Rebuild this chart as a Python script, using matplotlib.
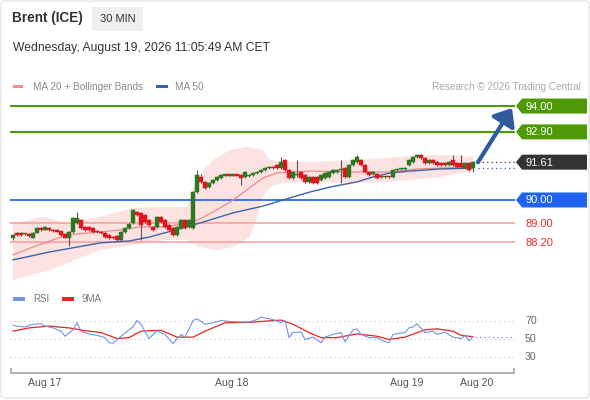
import matplotlib
matplotlib.use("Agg")
import matplotlib.pyplot as plt
import matplotlib.transforms as mtransforms
from matplotlib.patches import Rectangle, Polygon, FancyBboxPatch, FancyArrowPatch
import numpy as np

plt.rcParams['font.family'] = ['Liberation Sans', 'DejaVu Sans']

# ---------------- data ----------------
title = "Brent (ICE)"
timeframe = "30 MIN"
timestamp = "Wednesday, August 19, 2026 11:05:49 AM CET"

opens = [88.38,88.60,88.58,88.54,88.54,88.40,88.60,88.80,88.74,88.82,
         88.74,88.72,88.66,88.55,88.40,88.64,89.02,89.15,88.85,88.84,
         88.80,88.70,88.64,88.60,88.50,88.43,88.45,88.30,88.64,88.81,
         89.02,89.50,89.45,89.36,89.15,88.85,88.85,89.28,89.15,88.94,
         88.81,88.51,88.81,89.15,88.85,88.81,90.34,90.98,90.77,90.55,
         90.72,90.85,90.94,91.04,91.06,91.04,91.06,91.06,90.98,91.02,
         91.08,91.13,91.19,91.26,91.36,91.40,91.49,91.36,91.70,91.28,
         90.94,91.06,91.19,91.06,90.77,90.98,90.98,90.85,90.94,90.98,
         91.15,91.19,91.26,91.36,90.98,91.49,91.62,91.70,91.49,91.19,
         91.11,91.11,90.98,90.96,90.98,90.98,91.26,91.30,91.32,91.49,
         91.62,91.83,91.91,91.79,91.57,91.70,91.62,91.57,91.57,91.49,
         91.70,91.57,91.57,91.36,91.57,91.36]
highs = [88.55,88.64,88.62,88.60,88.58,88.62,88.85,88.85,88.90,88.86,
         88.78,88.76,88.70,88.58,88.68,89.28,89.49,89.20,88.90,88.88,
         88.84,88.74,88.68,88.64,88.54,88.46,88.50,88.68,88.85,89.02,
         89.60,89.55,89.50,89.40,89.20,88.90,89.32,89.32,89.20,88.98,
         88.85,88.90,89.20,89.20,89.20,90.40,91.28,91.10,90.82,90.78,
         90.90,91.02,91.10,91.09,91.09,91.08,91.09,91.10,91.23,91.12,
         91.19,91.23,91.32,91.40,91.44,91.44,91.53,91.83,91.75,91.32,
         91.23,91.70,91.23,91.10,91.02,91.02,91.02,91.10,91.19,91.23,
         91.32,91.32,91.70,91.40,91.53,91.74,91.91,91.74,91.53,91.23,
         91.23,91.15,91.02,91.02,91.02,91.32,91.34,91.36,91.40,91.74,
         91.87,91.95,91.95,91.83,91.74,91.74,91.66,91.62,91.62,91.66,
         91.91,91.62,91.91,91.62,91.62,91.65]
lows = [88.30,88.47,88.48,88.50,88.42,88.36,88.58,88.70,88.72,88.70,
        88.62,88.62,88.48,88.36,88.02,88.60,88.98,88.76,88.68,88.70,
        88.60,88.60,88.56,88.40,88.34,88.32,88.26,88.24,88.60,88.78,
        88.98,89.32,88.30,89.00,88.90,88.68,88.80,89.00,88.80,88.68,
        88.46,88.46,88.76,88.76,88.80,88.76,90.30,90.72,90.46,90.50,
        90.68,90.82,90.90,91.01,91.00,91.01,91.00,90.64,90.94,90.98,
        91.04,91.09,91.15,91.22,91.32,91.34,91.32,91.32,91.24,90.90,
        90.90,90.98,90.90,90.72,90.72,90.68,90.68,90.81,90.90,90.94,
        91.11,91.15,90.72,90.94,90.94,91.45,91.58,91.45,91.15,91.02,
        91.07,90.90,90.92,90.92,90.93,90.94,91.22,91.26,91.28,91.45,
        91.58,91.79,91.75,91.53,91.53,91.53,91.45,91.45,91.45,91.45,
        91.45,91.36,91.36,91.32,91.24,91.19]
closes = [88.51,88.51,88.52,88.56,88.45,88.60,88.81,88.72,88.84,88.73,
          88.66,88.65,88.52,88.40,88.64,89.23,89.23,88.81,88.72,88.74,
          88.64,88.64,88.60,88.43,88.38,88.38,88.30,88.64,88.81,88.98,
          89.57,89.36,88.94,89.06,88.94,88.72,89.28,89.06,88.85,88.72,
          88.51,88.85,89.15,88.81,89.15,90.34,91.06,90.77,90.51,90.72,
          90.85,90.98,91.06,91.06,91.04,91.06,91.04,90.94,91.19,91.08,
          91.15,91.19,91.28,91.36,91.40,91.38,91.36,91.62,91.28,90.94,
          91.19,91.08,90.94,90.77,90.98,90.72,90.72,91.06,91.15,91.19,
          91.28,91.28,91.30,90.98,91.49,91.70,91.83,91.49,91.19,91.06,
          91.19,90.94,90.96,90.98,90.97,91.28,91.30,91.32,91.36,91.70,
          91.83,91.91,91.79,91.57,91.70,91.57,91.49,91.49,91.49,91.62,
          91.49,91.40,91.40,91.57,91.28,91.61]

bb_up_idx = [0,4.25,7.5,13.5,21.75,30,38.5,43.5,46,50,54.25,58.5,62.5,64.25,67.5,74.25,86,102.5,111,115]
bb_up = [89.02,89.15,89.28,89.02,89.28,89.66,89.70,89.70,90.98,91.70,92.13,92.26,92.13,91.70,91.62,91.62,91.70,91.91,91.91,91.83]
bb_lo_idx = [0,9.25,21.75,30,38.5,43.5,46.75,51,55,59.25,61,62.5,64.25,66.75,74.25,86,94.25,106.75,113.5,115.5]
bb_lo = [86.60,87.02,87.87,88.09,88.30,88.30,88.00,87.87,88.00,88.43,89.28,90.13,90.55,90.72,90.77,90.72,90.77,90.98,91.19,91.36]
ma20_idx = [0,5,13.5,21.75,26.75,31.75,38.5,44.25,46.75,50,54.25,58.5,62.5,66,69.25,74.25,86,94.25,101,106.75,115]
ma20 = [87.66,88.00,88.51,88.64,88.72,88.85,88.85,89.06,89.19,89.49,89.91,90.43,90.94,91.15,91.19,91.23,91.19,91.19,91.32,91.36,91.40]
ma50_idx = [0,9.25,21.75,29.25,34.25,42.5,46.75,55,62.5,69.25,74.25,79.25,86,90,94.25,99.25,106.75,115]
ma50 = [87.45,87.79,88.17,88.26,88.43,88.81,89.02,89.45,89.74,90.09,90.34,90.55,90.77,90.98,91.15,91.23,91.32,91.36]

resistances = [94.00, 92.90]
pivot = 90.00
supports = [89.00, 88.20]

rsi_idx = [0,1,3,5,7,8,10,12,13,15,16,17,19,21,23,24,25,27,29,30,31,32,34,36,38,40,42,43,45,46,
           48,50,52,54,57,59,61,62,64,65,67,68,69,70,72,73,75,77,78,80,82,83,85,86,87,89,91,93,94,95,
           98,99,100,101,103,105,106,108,110,112,113,114,115]
rsi_val = [65,64,63,66,66.5,64,62,58.5,53,60,67.5,58.5,55.5,54,51.5,46,45.5,53,60,63,70,66,50.5,59,55,45,55,52,70,72,
           66,67.5,70,69,68.5,68.5,71,73.5,72,71,67.5,70,51.5,57,57.5,49.5,52,46,52,55,57,47,60,61,55,51.5,51.5,47,46,55,
           57,62,63,66.5,57,58.5,55,57.5,52,50.5,54,48,52.5]
ma9_idx = [0,4,9,14,18,22,26,29,32,37,41,45,48,53,59,62,67,70,74,77,81,86,91,94,98,103,106,110,112,115]
ma9_val = [58.5,62,64,62,59,57,50.5,51.5,58.5,59.5,52,52,58.5,67.5,68,69,70.5,66,57,51.5,51.5,55.5,53,49.5,52,60,61,58.5,54,52.5]
rsi_levels = [70, 50, 30]

date_pos = [8, 54.75, 98.5, 116]
date_labels = ['Aug 17', 'Aug 18', 'Aug 19', 'Aug 20']

# ---------------- styles ----------------
GREEN_C = '#2b7a1f'
RED_C = '#e3131b'
WICK = '#555555'
LVL_GREEN = '#4d9a06'
LVL_BLUE = '#2a6ae8'
LVL_PINK = '#f7a3a3'
TXT_RED = '#ee2a2a'
MA20_C = '#f28a8a'
MA50_C = '#3b63a8'
BAND_C = '#fde2e2'
RSI_C = '#7093e6'
MA9_C = '#ee2020'

W, H = 590, 400
fig = plt.figure(figsize=(W/100, H/100), dpi=100)
fig.patch.set_facecolor('white')
ov = fig.add_axes([0, 0, 1, 1], zorder=0)
ov.set_xlim(0, W); ov.set_ylim(H, 0); ov.axis('off')

ax = fig.add_axes([10/W, 1-285/H, 505/W, 190/H], zorder=2)
ax.set_xlim(-0.75, 125.5); ax.set_ylim(86.38, 94.47); ax.axis('off')

ax2 = fig.add_axes([10/W, 1-372/H, 505/W, 67/H], zorder=2)
ax2.set_xlim(-0.75, 125.5); ax2.set_ylim(14.3, 86.8); ax2.axis('off')

def py(a, v):
    return H - a.transData.transform((0, v))[1]

n = len(closes)
xs = np.arange(n)

# Bollinger band fill
ax.fill(np.concatenate([bb_up_idx, bb_lo_idx[::-1]]), np.concatenate([bb_up, bb_lo[::-1]]),
        color=BAND_C, lw=0, zorder=0.5)

# Level lines
for r in resistances:
    ax.axhline(r, color=LVL_GREEN, lw=1.5, zorder=1)
ax.axhline(pivot, color=LVL_BLUE, lw=1.3, zorder=1)
for s in supports:
    ax.axhline(s, color=LVL_PINK, lw=1.2, zorder=1)

# MAs
ax.plot(ma20_idx, ma20, color=MA20_C, lw=0.9, zorder=2)
ax.plot(ma50_idx, ma50, color=MA50_C, lw=1.0, zorder=2)

# candles
for i in range(n):
    o, h, l, c = opens[i], highs[i], lows[i], closes[i]
    col = GREEN_C if c >= o else RED_C
    ax.vlines(xs[i], l, h, color=WICK, lw=0.8, zorder=3)
    bot = min(o, c)
    hgt = max(abs(c - o), 0.045)
    ax.add_patch(Rectangle((xs[i]-0.38, bot), 0.76, hgt, facecolor=col, edgecolor=col, lw=0.3, zorder=4))

# last price dotted extension
xr = ax.get_xlim()[1]
ax.hlines(closes[-1], n + 0.3, xr, colors='#333333', linestyles=(0, (1, 2.5)), lw=0.9, zorder=2)
ax.hlines(ma50[-1], n + 0.3, xr, colors=MA50_C, linestyles=(0, (1, 2.5)), lw=0.9, zorder=2)

# arrow toward target
arr = FancyArrowPatch((n + 0.25, closes[-1]), (n + 8.75, resistances[0] - 0.09),
                      arrowstyle='-|>,head_length=0.6,head_width=0.5', mutation_scale=16,
                      lw=3, color='#2e5c9c', zorder=5, shrinkA=0, shrinkB=0)
ax.add_patch(arr)

# price tags
def tag(price, text, fc):
    y = py(ax, price)
    pts = [(516, y), (522, y-7.5), (587, y-7.5), (587, y+7.5), (522, y+7.5)]
    ov.add_patch(Polygon(pts, closed=True, facecolor=fc, edgecolor='none'))
    ov.text(525, y+0.5, text, color='white', fontsize=8, va='center', ha='left')

for r in resistances:
    tag(r, f"{r:.2f}", LVL_GREEN)
tag(closes[-1], f"{closes[-1]:.2f}", '#333333')
tag(pivot, f"{pivot:.2f}", '#1f63f0')
for s in supports:
    ov.text(525, py(ax, s)+0.5, f"{s:.2f}", color=TXT_RED, fontsize=8, va='center', ha='left')

# ---------------- RSI panel ----------------
for lv in rsi_levels:
    ax2.axhline(lv, color='#c4c4c4', lw=0.8, linestyle=(0, (1, 3)), zorder=1)
    ov.text(525, py(ax2, lv), f"{lv}", color='#666666', fontsize=7.6, va='center', ha='left')
ax2.plot(rsi_idx, rsi_val, color=RSI_C, lw=0.8, zorder=3)
ax2.plot(ma9_idx, ma9_val, color=MA9_C, lw=0.9, zorder=2)
ax2.hlines(rsi_val[-1], n - 0.5, xr, colors=RSI_C, linestyles=(0, (1, 2.5)), lw=0.9)

# bottom axis bracket
ov.plot([11, 11, 514, 514], [368, 373, 373, 368], color='#aaaaaa', lw=1.3, solid_capstyle='butt')
btr = mtransforms.blended_transform_factory(ax2.transData, ov.transData)
for p, lab in zip(date_pos, date_labels):
    ov.text(p, 383, lab, transform=btr, color='#555555', fontsize=7.6, ha='center', va='center')

# ---------------- header & legends ----------------
ov.text(12, 18, title, fontsize=9.8, fontweight='bold', color='#333333', va='center', ha='left')
ov.add_patch(Rectangle((92, 7), 51, 24, facecolor='#efefef', edgecolor='none'))
ov.text(117.5, 19, timeframe, fontsize=8, color='#333333', va='center', ha='center')
ov.text(13, 48, timestamp, fontsize=8.7, color='#333333', va='center', ha='left')

ov.add_patch(Rectangle((13, 84.5), 10, 3.5, facecolor='#f58b8b', edgecolor='none'))
ov.text(33, 86.5, "MA 20 + Bollinger Bands", fontsize=7.2, color='#8a8a8a', va='center', ha='left')
ov.add_patch(Rectangle((156, 84.5), 12, 3.5, facecolor=MA50_C, edgecolor='none'))
ov.text(175, 86.5, "MA 50", fontsize=7.2, color='#8a8a8a', va='center', ha='left')
ov.text(581, 86.5, "Research \u00a9 2026 Trading Central", fontsize=7.2, color='#aaaaaa', va='center', ha='right')

ov.add_patch(Rectangle((13, 297), 12, 3.5, facecolor=RSI_C, edgecolor='none'))
ov.text(33, 299, "RSI", fontsize=7.0, color='#777777', va='center', ha='left')
ov.add_patch(Rectangle((62, 297), 12, 3.5, facecolor=MA9_C, edgecolor='none'))
ov.text(82, 299, "9MA", fontsize=7.0, color='#777777', va='center', ha='left')

ov.add_patch(FancyBboxPatch((1, 1), 588, 397, boxstyle='round,pad=0,rounding_size=4',
                            facecolor='none', edgecolor='#e6e6e6', lw=1))

fig.savefig('out.png', dpi=100)
